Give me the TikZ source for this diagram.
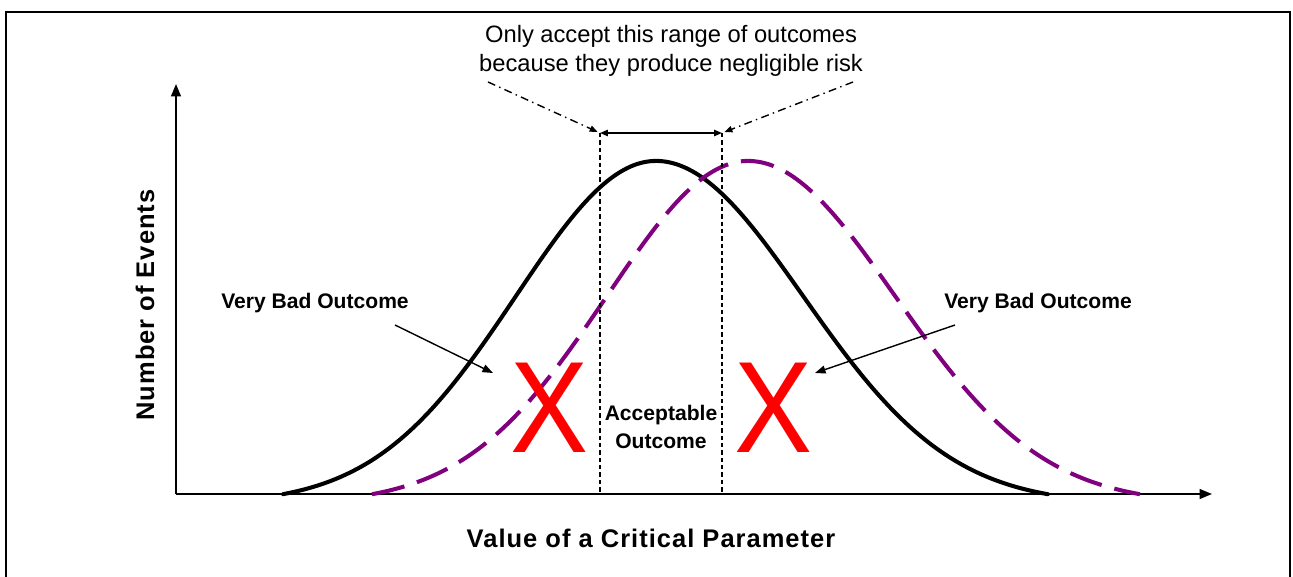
\documentclass[tikz,border=0pt]{standalone}
\usepackage{fontspec}
\setmainfont{Liberation Sans}
\usetikzlibrary{arrows.meta}

\definecolor{shiftpurple}{RGB}{128,0,128}

\tikzset{
    axisline/.style={line width=1.1pt, -{Triangle[length=7pt,width=5.5pt]}},
    bell/.style={line width=2.3pt, line cap=round},
    shifted/.style={line width=2.3pt, shiftpurple, dash pattern=on 19pt off 7.5pt},
    bound/.style={line width=0.6pt, dash pattern=on 2.5pt off 1.7pt},
    span/.style={line width=0.9pt, {Triangle[length=4.5pt,width=3.6pt]}-{Triangle[length=4.5pt,width=3.6pt]}},
    callout/.style={line width=0.8pt, dash pattern=on 4.5pt off 2.5pt on 0.8pt off 2.5pt, -{Triangle[length=4.5pt,width=3.6pt]}},
    pointer/.style={line width=0.8pt, -{Triangle[length=6pt,width=4.5pt]}},
    lbl/.style={font=\bfseries\fontsize{12}{15.9}\selectfont, align=center, inner sep=0pt},
    axislbl/.style={font=\bfseries\fontsize{14.5}{17}\selectfont\addfontfeature{LetterSpace=4}, inner sep=0pt},
    cross/.style={text=red, font=\fontsize{74}{74}\selectfont, inner sep=0pt, xscale=0.9}
}

\begin{document}
\begin{tikzpicture}[x=0.02cm, y=-0.02cm]
    \useasboundingbox (0,0) rectangle (1293,577);

    % Outer frame (bottom edge runs off the page)
    \draw[line width=1.1pt] (6,620) -- (6,12) -- (1290,12) -- (1290,620);

    % Axes
    \coordinate (O) at (176,494);
    \coordinate (ytop) at (176,84);
    \coordinate (xend) at (1212,494);
    \draw[axisline] (O) -- (ytop);
    \draw[axisline] (O) -- (xend);
    \node[axislbl, rotate=90] (ylab) at (145,305) {Number of Events};
    \node[axislbl] (xlab) at (651,538) {Value of a Critical Parameter};

    % Nominal distribution (solid) and shifted distribution (dashed)
    \draw[bell] plot[domain=-2.664:2.667, samples=120, smooth]
        ({656+(\x<0 ? 140 : 147)*\x}, {504-343*exp(-\x*\x/2)});
    \draw[shifted] plot[domain=-2.667:2.667, samples=120, smooth]
        ({748+(\x<0 ? 141 : 147)*\x}, {504-343*exp(-\x*\x/2)});

    % Acceptable window
    \coordinate (accL) at (600,133);
    \coordinate (accR) at (722,133);
    \foreach \c in {accL,accR} {
        \draw[bound] (\c) -- (\c |- O);
    }
    \draw[span] (accL) -- (accR);
    \node[lbl] (accept) at (661,427) {Acceptable\\Outcome};

    % Callout text on top
    \node[align=center, inner sep=0pt, font=\fontsize{13.5}{16.4}\selectfont] (range) at (671,51)
        {Only accept this range of outcomes\\because they produce negligible risk};
    \coordinate (cl) at (488,82);
    \coordinate (cr) at (853,82);
    \draw[callout, shorten >=1.5pt] (cl) -- (accL);
    \draw[callout, shorten >=1.5pt] (cr) -- (accR);

    % Rejected regions
    \node[cross] (xl) at (550,408) {X};
    \node[cross] (xr) at (774,408) {X};
    \node[lbl] (badL) at (315,303) {Very Bad Outcome};
    \node[lbl] (badR) at (1038,303) {Very Bad Outcome};
    \coordinate (fromL) at (395,325);
    \coordinate (tipL) at (493,373);
    \coordinate (fromR) at (955,325);
    \coordinate (tipR) at (815,373);
    \draw[pointer] (fromL) -- (tipL);
    \draw[pointer] (fromR) -- (tipR);
\end{tikzpicture}
\end{document}
